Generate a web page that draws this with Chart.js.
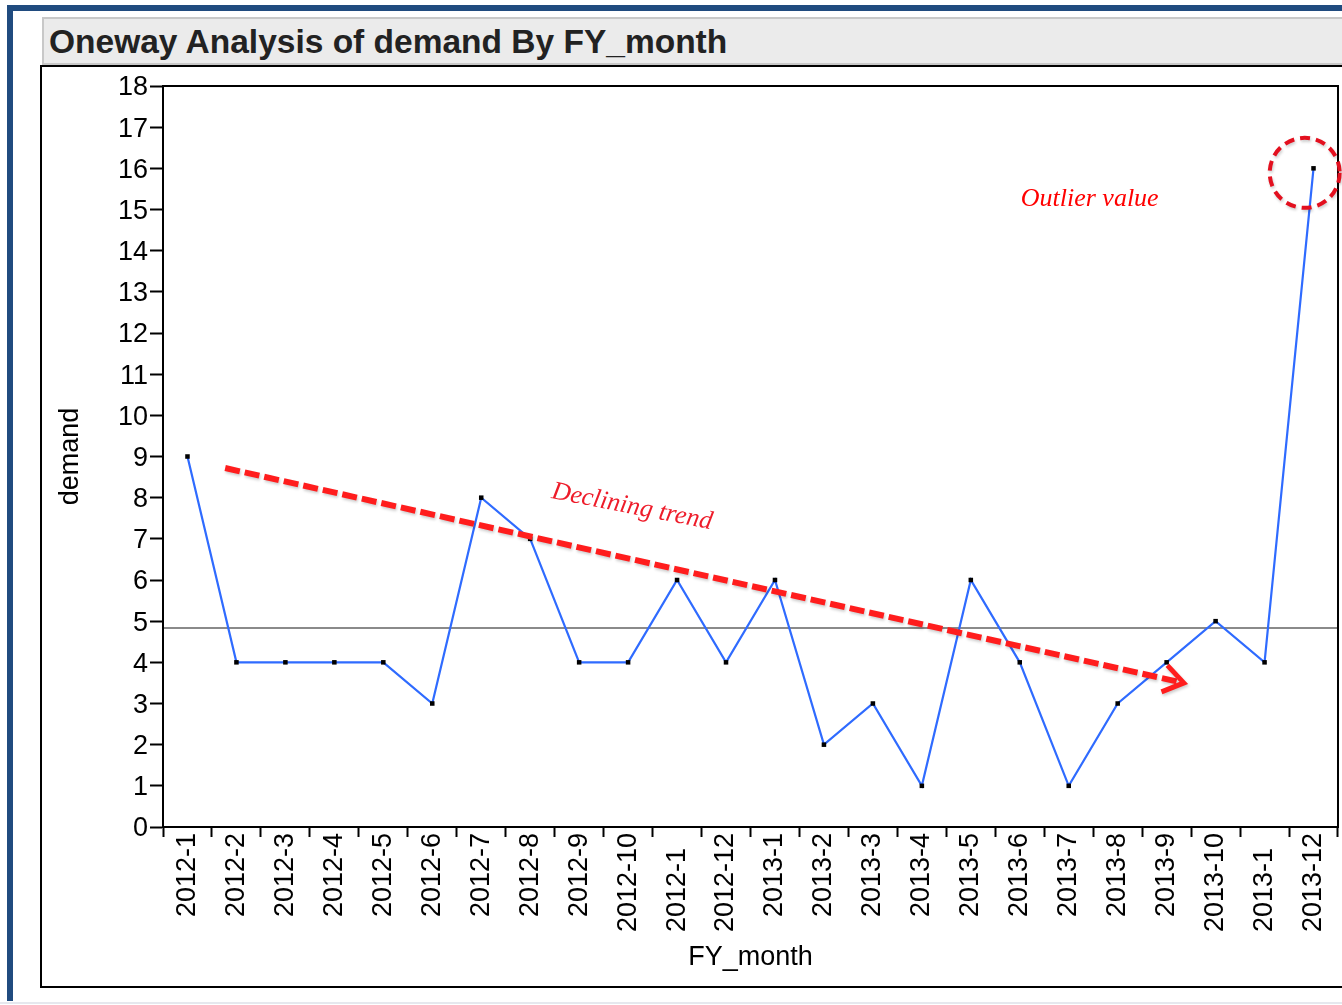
<!DOCTYPE html>
<html>
<head>
<meta charset="utf-8">
<title>Oneway Analysis of demand By FY_month</title>
<script src="https://cdn.jsdelivr.net/npm/chart.js@4.4.1/dist/chart.umd.min.js"></script>
<style>
  html, body { margin: 0; padding: 0; background: #fff; }
  body { width: 1342px; height: 1005px; position: relative; overflow: hidden; font-family: "Liberation Sans", Arial, sans-serif; }
  #edgeTop { position: absolute; left: 7px; top: 5px; width: 1335px; height: 6px; background: #204b7f; }
  #edgeLeft { position: absolute; left: 7px; top: 5px; width: 6px; height: 996px; background: #204b7f; }
  #edgeBottom { position: absolute; left: 0; top: 1002px; width: 1342px; height: 2px; background: #e6e8ee; }
  #titleBar { position: absolute; left: 42px; top: 17px; width: 1320px; height: 48px; box-sizing: border-box;
    border: 2px solid #c8c8c8; background: #ebebeb; color: #222; font: bold 33.5px "Liberation Sans", Arial, sans-serif;
    line-height: 45px; padding-left: 5px; white-space: nowrap; }
  #frame { position: absolute; left: 40px; top: 65px; width: 1330px; height: 919px; border: 2px solid #000; }
  #chartBox { position: absolute; left: 42px; top: 67px; width: 1300px; height: 919px; }
</style>
</head>
<body>
<div id="edgeTop"></div>
<div id="edgeLeft"></div>
<div id="edgeBottom"></div>
<div id="titleBar">Oneway Analysis of demand By FY_month</div>
<div id="frame"></div>
<div id="chartBox"><canvas id="onewayChart"></canvas></div>

<script>
// Données (les libellés tronqués sont gardés tels quels)
const months = ['2012-1', '2012-2', '2012-3', '2012-4', '2012-5', '2012-6', '2012-7', '2012-8',
  '2012-9', '2012-10', '2012-1', '2012-12', '2013-1', '2013-2', '2013-3', '2013-4', '2013-5',
  '2013-6', '2013-7', '2013-8', '2013-9', '2013-10', '2013-1', '2013-12'];
const demand = [9, 4, 4, 4, 4, 3, 8, 7, 4, 4, 6, 4, 6, 2, 3, 1, 6, 4, 1, 3, 4, 5, 4, 16];
const demandTicks = [0, 1, 2, 3, 4, 5, 6, 7, 8, 9, 10, 11, 12, 13, 14, 15, 16, 17, 18];
// libellés décalés comme dans l'original (ils étaient coupés)
const shiftedLabels = [10, 22];

// Moyenne générale (ligne grise)
const grandMean = demand.reduce((a, b) => a + b, 0) / demand.length;

const axisFont = { family: '"Liberation Sans", Arial, sans-serif', size: 27 };

// Plugin pour le cadre, la moyenne et les annotations en rouge
const decorations = {
  id: 'decorations',
  beforeDatasetsDraw(chart) {
    const { ctx, chartArea: a, scales: { y } } = chart;
    const my = y.getPixelForValue(grandMean);
    ctx.save();
    ctx.strokeStyle = '#8a8a8a';
    ctx.lineWidth = 2;
    ctx.beginPath();
    ctx.moveTo(a.left, my);
    ctx.lineTo(a.right, my);
    ctx.stroke();
    ctx.restore();
  },
  afterDatasetsDraw(chart) {
    const { ctx, chartArea: a, scales: { x, y } } = chart;
    ctx.save();
    // cadre du graphique
    ctx.strokeStyle = '#000';
    ctx.lineWidth = 2;
    ctx.strokeRect(a.left, a.top, a.right - a.left, a.bottom - a.top);

    // flèche de tendance
    const x1 = x.getPixelForValue(0.77), y1 = y.getPixelForValue(8.72);
    const x2 = x.getPixelForValue(20.35), y2 = y.getPixelForValue(3.5);
    ctx.shadowColor = 'rgba(0,0,0,0.2)';
    ctx.shadowBlur = 3;
    ctx.shadowOffsetX = 1;
    ctx.shadowOffsetY = 2;
    ctx.strokeStyle = '#ff1d1d';
    ctx.lineWidth = 6;
    ctx.setLineDash([15, 5]);
    ctx.beginPath();
    ctx.moveTo(x1, y1);
    ctx.lineTo(x2 - 5, y2 - 1);
    ctx.stroke();
    ctx.setLineDash([]);
    const ang = Math.atan2(y2 - y1, x2 - x1);
    ctx.lineWidth = 5;
    ctx.beginPath();
    ctx.moveTo(x2 - 24 * Math.cos(ang - 0.6), y2 - 24 * Math.sin(ang - 0.6));
    ctx.lineTo(x2, y2);
    ctx.lineTo(x2 - 24 * Math.cos(ang + 0.6), y2 - 24 * Math.sin(ang + 0.6));
    ctx.stroke();

    // cercle autour de la valeur aberrante
    ctx.strokeStyle = '#e3101f';
    ctx.lineWidth = 4;
    ctx.setLineDash([10, 6]);
    ctx.beginPath();
    ctx.arc(x.getPixelForValue(22.82), y.getPixelForValue(15.89), 35, 0, Math.PI * 2);
    ctx.stroke();
    ctx.setLineDash([]);
    ctx.shadowColor = 'transparent';

    // textes
    ctx.font = 'italic 26px "Liberation Serif", "Times New Roman", serif';
    ctx.textBaseline = 'alphabetic';
    ctx.textAlign = 'left';
    ctx.fillStyle = '#ee1c2a';
    ctx.save();
    ctx.translate(x.getPixelForValue(7.42), y.getPixelForValue(7.99));
    ctx.rotate(11 * Math.PI / 180);
    ctx.fillText('Declining trend', 0, 0);
    ctx.restore();
    ctx.fillStyle = '#ff0000';
    ctx.fillText('Outlier value', x.getPixelForValue(17.02), y.getPixelForValue(15.08));
    ctx.restore();
  }
};

const onewayChart = new Chart(document.getElementById('onewayChart'), {
  type: 'line',
  data: {
    labels: months,
    datasets: [{
      label: 'demand',
      data: demand,
      borderColor: '#2f6bff',
      borderWidth: 2.2,
      tension: 0,
      fill: false,
      pointStyle: 'rect',
      pointRadius: 3.2,
      pointBorderWidth: 0,
      pointBackgroundColor: '#000'
    }]
  },
  options: {
    responsive: true,
    maintainAspectRatio: false,
    animation: false,
    layout: { padding: { top: 19, right: 4, left: 0, bottom: 0 } },
    plugins: {
      legend: { display: false },
      tooltip: { enabled: false }
    },
    scales: {
      x: {
        offset: true,
        afterFit: (scale) => { scale.height = 159; },
        grid: { offset: true, drawOnChartArea: false, tickLength: 10, tickWidth: 2, tickColor: '#000' },
        border: { display: true, color: '#000', width: 2 },
        ticks: {
          autoSkip: false,
          minRotation: 90,
          maxRotation: 90,
          padding: -4,
          color: '#000',
          font: axisFont,
          callback: (v, i) => shiftedLabels.includes(i) ? months[i] + '\u2007' : months[i]
        },
        title: { display: true, text: 'FY_month', color: '#000', font: axisFont, padding: { top: 0, bottom: 12 } }
      },
      y: {
        min: 0,
        max: 18,
        afterFit: (scale) => { scale.width = 121; },
        afterBuildTicks: (scale) => { scale.ticks = demandTicks.map(v => ({ value: v })); },
        grid: { drawOnChartArea: false, tickLength: 13, tickWidth: 2, tickColor: '#000' },
        border: { display: true, color: '#000', width: 2 },
        ticks: { padding: 2, labelOffset: 2, color: '#000', font: axisFont },
        title: { display: true, text: 'demand', color: '#000', font: axisFont, padding: { top: 12, bottom: 0 } }
      }
    }
  },
  plugins: [decorations]
});
</script>
</body>
</html>
